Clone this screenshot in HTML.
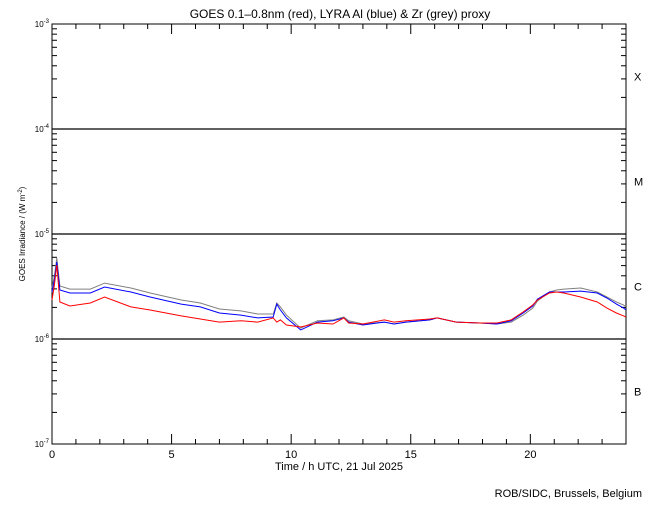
<!DOCTYPE html>
<html><head><meta charset="utf-8"><style>
body{margin:0;background:#fff;}
svg text{font-family:"Liberation Sans",sans-serif;fill:#000;}
</style></head><body>
<svg id="chart" width="650" height="500">
<rect width="650" height="500" fill="#fff"/>
<text x="340" y="18" font-size="12" text-anchor="middle">GOES 0.1–0.8nm (red), LYRA Al (blue) &amp; Zr (grey) proxy</text>
<text x="339" y="470" font-size="11" text-anchor="middle">Time / h UTC, 21 Jul 2025</text>
<text x="642" y="497" font-size="11" text-anchor="end">ROB/SIDC, Brussels, Belgium</text>
<text transform="translate(25,234) rotate(-90)" font-size="8" text-anchor="middle">GOES Irradiance / (W m<tspan dy="-3" font-size="6">-2</tspan><tspan dy="3">)</tspan></text>
<g id="axes"></g>
<g id="series"></g>
</svg>
<script>
const hours=[0,0.1,0.2,0.33,0.75,1.6,2.2,3.3,4.1,5.4,6.2,7,7.9,8.6,9.25,9.4,9.55,9.8,10.4,11.1,11.75,12.2,12.4,13,13.9,14.3,14.8,15.8,16.1,16.9,17.9,18.6,19.2,19.7,20.1,20.3,20.8,21.1,21.4,22.1,22.8,23.2,23.6,23.9,24];
const goesRed=[2.35,3.27,5.07,2.25,2.06,2.20,2.51,2.02,1.89,1.66,1.55,1.45,1.49,1.45,1.59,1.45,1.52,1.36,1.30,1.42,1.39,1.59,1.42,1.39,1.52,1.45,1.49,1.55,1.59,1.45,1.42,1.42,1.52,1.81,2.11,2.35,2.74,2.80,2.74,2.51,2.25,1.97,1.77,1.66,1.62];
const lyraBlue=[2.80,3.65,5.41,2.93,2.74,2.74,3.13,2.80,2.51,2.15,2.02,1.77,1.69,1.59,1.62,2.15,1.89,1.59,1.22,1.45,1.49,1.59,1.45,1.36,1.45,1.39,1.45,1.52,1.59,1.45,1.42,1.39,1.49,1.77,2.06,2.40,2.80,2.80,2.80,2.86,2.74,2.46,2.15,1.97,1.89];
const zrGrey=[3.06,3.98,5.91,3.20,2.99,2.99,3.41,3.06,2.74,2.35,2.20,1.93,1.85,1.73,1.73,2.20,2.02,1.69,1.27,1.49,1.52,1.62,1.49,1.39,1.45,1.39,1.45,1.52,1.59,1.45,1.42,1.39,1.45,1.69,1.97,2.30,2.80,2.93,2.99,3.06,2.80,2.51,2.25,2.11,2.02];
const xTickLabels=["0","5","10","15","20"];
const yExponents=[-3,-4,-5,-6,-7];
const classLabels=["X","M","C","B"];
const unit=1e-6;

const L=52,R=626,T=24,B=444;
const NS="http://www.w3.org/2000/svg";
const x=h=>L+(h/24)*(R-L);
const y=v=>T+(-3-Math.log10(v))*(B-T)/4;
function mk(tag,attrs,parent){const e=document.createElementNS(NS,tag);for(const k in attrs)e.setAttribute(k,attrs[k]);parent.appendChild(e);return e;}
const ax=document.getElementById('axes');
const frame=mk('rect',{x:L,y:T,width:R-L,height:B-T,fill:'none',stroke:'#000','stroke-width':1},ax);


yExponents.forEach((e,i)=>{
  const yy=y(Math.pow(10,e));
  if(i>0&&i<yExponents.length-1){
    const ln=mk('line',{x1:L,x2:R,y1:yy,y2:yy,stroke:'#000','stroke-width':1.2},ax);
    
    
  }
  const t=mk('text',{x:L-3,y:yy+3,'font-size':8,'text-anchor':'end'},ax);
  
  
  t.innerHTML='10<tspan dy="-4" font-size="6">'+e+'</tspan>';
  if(i<yExponents.length-1){
    for(let m=2;m<=9;m++){
      const my=y(m*Math.pow(10,e-1));
      mk('line',{x1:L,x2:L+5,y1:my,y2:my,stroke:'#000'},ax);
      mk('line',{x1:R-5,x2:R,y1:my,y2:my,stroke:'#000'},ax);
    }
  }
});
classLabels.forEach((c,i)=>{
  const yy=(y(Math.pow(10,-3-i))+y(Math.pow(10,-4-i)))/2;
  const t=mk('text',{x:634,y:yy+4,'font-size':11},ax);
  t.textContent=c;
  
  
});
for(let h=0;h<=24;h++){
  const len=h%5===0?10:5;
  mk('line',{x1:x(h),x2:x(h),y1:T,y2:T+len,stroke:'#000'},ax);
  mk('line',{x1:x(h),x2:x(h),y1:B,y2:B-len,stroke:'#000'},ax);
}
xTickLabels.forEach(s=>{
  const t=mk('text',{x:x(+s),y:B+14,'font-size':11,'text-anchor':'middle'},ax);
  t.textContent=s;
  
  
});
const sg=document.getElementById('series');
function draw(vals,col,name){
  let d='';
  hours.forEach((h,i)=>{d+=(i?'L':'M')+x(h).toFixed(1)+' '+y(vals[i]*unit).toFixed(1);});
  const p=mk('path',{d:d,fill:'none',stroke:col,'stroke-width':1},sg);
  
  
}
draw(zrGrey,'#808080','zr-grey-line');
draw(lyraBlue,'#0000ff','lyra-blue-line');
draw(goesRed,'#ff0000','goes-red-line');
</script>
</body></html>
